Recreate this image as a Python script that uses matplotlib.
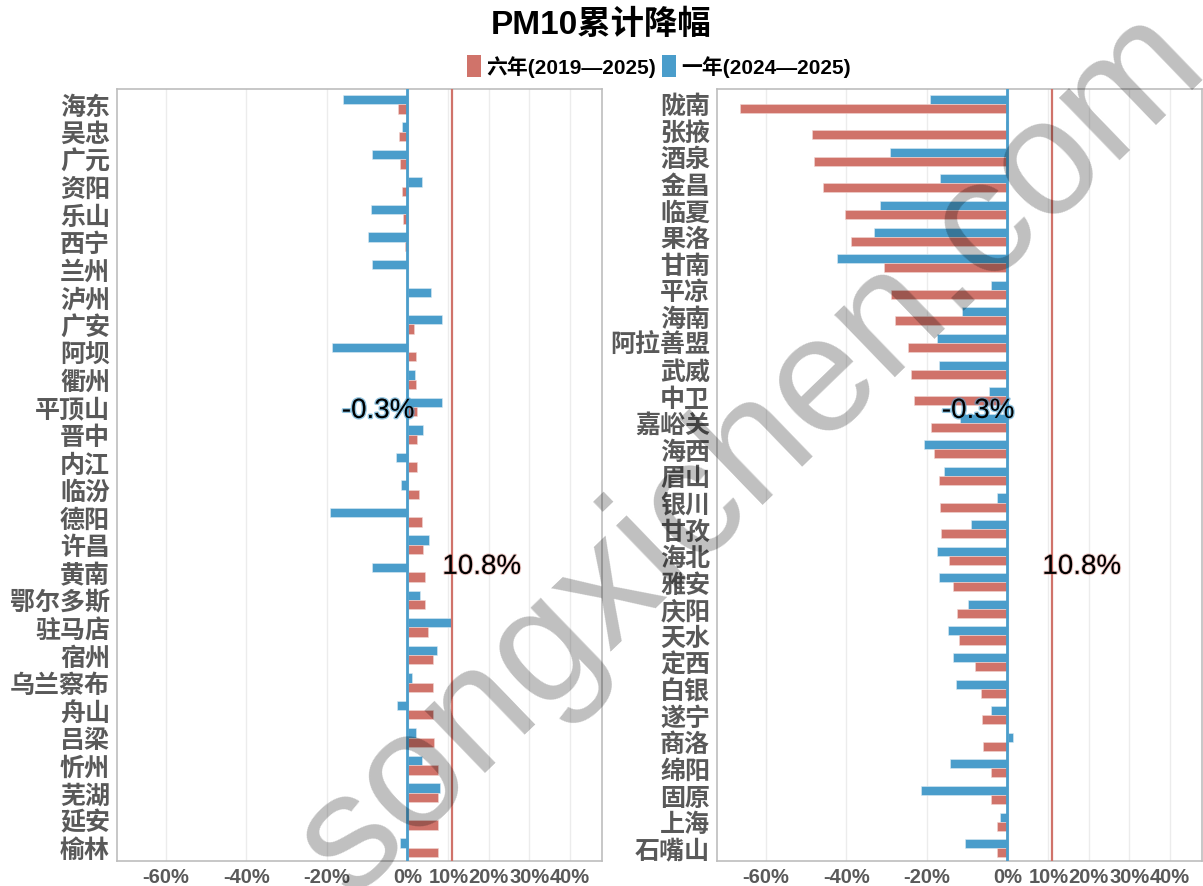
import numpy as np
import matplotlib
matplotlib.use('Agg')
import matplotlib.pyplot as plt
import matplotlib.patheffects as pe
from matplotlib.patches import Patch

# ---------------- data ----------------
left_cities = ['海东', '吴忠', '广元', '资阳', '乐山', '西宁', '兰州', '泸州', '广安', '阿坝',
               '衢州', '平顶山', '晋中', '内江', '临汾', '德阳', '许昌', '黄南', '鄂尔多斯', '驻马店',
               '宿州', '乌兰察布', '舟山', '吕梁', '忻州', '芜湖', '延安', '榆林']
left_six = [-2.5, -2.3, -2.1, -1.5, -1.2, -0.8, 0.1, 0.1, 1.5, 1.9,
            2.1, 2.2, 2.3, 2.3, 2.7, 3.5, 3.75, 4.1, 4.3, 4.9,
            6.2, 6.3, 6.3, 6.5, 7.3, 7.3, 7.5, 7.5]
left_one = [-16.0, -1.4, -8.8, 3.5, -9.1, -10.0, -8.8, 5.6, 8.3, -18.7,
            1.8, 8.3, 3.6, -2.9, -1.7, -19.4, 5.3, -8.8, 2.9, 11.0,
            7.2, 1.1, -2.7, 1.9, 3.4, 7.8, 0.0, -2.1]

right_cities = ['陇南', '张掖', '酒泉', '金昌', '临夏', '果洛', '甘南', '平凉', '海南', '阿拉善盟',
                '武威', '中卫', '嘉峪关', '海西', '眉山', '银川', '甘孜', '海北', '雅安', '庆阳',
                '天水', '定西', '白银', '遂宁', '商洛', '绵阳', '固原', '上海', '石嘴山']
right_six = [-66.2, -48.5, -47.9, -45.7, -40.3, -38.8, -30.6, -28.9, -27.9, -24.7,
             -24.1, -23.2, -19.0, -18.2, -17.0, -16.8, -16.5, -14.5, -13.5, -12.6,
             -12.2, -8.1, -6.6, -6.5, -6.1, -4.3, -4.1, -2.6, -2.6]
right_one = [-19.2, -0.4, -29.1, -16.8, -31.7, -33.1, -42.2, -4.3, -11.3, -17.6,
             -17.1, -4.6, -12.0, -20.7, -15.9, -2.8, -9.2, -17.6, -17.0, -9.9,
             -14.8, -13.5, -12.8, -4.3, 1.3, -14.4, -21.5, -2.1, -10.6]

avg_one = -0.3
avg_six = 10.8
x_ticks = [-60, -40, -20, 0, 10, 20, 30, 40]
x_tick_labels = ['-60%', '-40%', '-20%', '0%', '10%', '20%', '30%', '40%']
title_text = 'PM10累计降幅'
legend_labels = ['六年(2019—2025)', '一年(2024—2025)']
avg_one_label = '-0.3%'
avg_six_label = '10.8%'
watermark = 'songxichen.com'

# ---------------- style ----------------
RED = '#D0736A'
BLUE = '#4A9DCB'
GRAY = '#595959'
LAT = ['Liberation Sans', 'Noto Sans CJK SC']
CJK = ['Noto Sans CJK SC', 'DejaVu Sans']

W, H = 1203, 887
fig = plt.figure(figsize=(W / 100, H / 100), dpi=100)
axL = fig.add_axes([117 / W, 25 / H, 485 / W, 772 / H])
axR = fig.add_axes([717 / W, 25 / H, 485 / W, 772 / H])


def panel(ax, cities, six, one):
    n = len(cities)
    y = np.arange(n)
    h = 0.34
    ax.barh(y - h / 2, one, height=h, color=BLUE, edgecolor='#dbeaf3', linewidth=0.4, zorder=2)
    ax.barh(y + h / 2, six, height=h, color=RED, edgecolor='#f1d6d2', linewidth=0.4, zorder=2)
    ax.axvline(avg_one, color=BLUE, lw=2, zorder=3)
    ax.axvline(avg_six, color=RED, lw=1.6, zorder=3)
    ax.set_xlim(-72, 48)
    ax.set_ylim(n - 1 + 0.48, -0.55)
    ax.set_yticks(y)
    ax.set_yticklabels(cities, fontsize=18, fontweight='bold', color=GRAY, family=CJK)
    ax.set_xticks(x_ticks)
    ax.set_xticklabels(x_tick_labels, fontsize=14.5, fontweight='bold', color=GRAY, family=LAT)
    ax.tick_params(length=0, pad=4)
    ax.tick_params(axis='y', pad=5)
    ax.grid(axis='x', color='#ececec', lw=1, zorder=0)
    ax.set_axisbelow(True)
    for s in ax.spines.values():
        s.set_color('#bdbdbd')
        s.set_linewidth(1.2)
    t1 = ax.text(1.6, 0.583, avg_one_label, transform=ax.get_xaxis_transform(),
                 ha='right', va='center', fontsize=20, color='black', family=LAT, zorder=5)
    t1.set_path_effects([pe.withStroke(linewidth=2, foreground=BLUE, alpha=0.6)])
    t2 = ax.text(8.5, 0.381, avg_six_label, transform=ax.get_xaxis_transform(),
                 ha='left', va='center', fontsize=20, color='black', family=LAT, zorder=5)
    t2.set_path_effects([pe.withStroke(linewidth=1.5, foreground=RED, alpha=0.4)])


panel(axL, left_cities, left_six, left_one)
panel(axR, right_cities, right_six, right_one)

fig.text(0.5, 1 - 25 / H, title_text, ha='center', va='center', fontsize=24,
         fontweight='bold', family=LAT, color='black')

handles = [Patch(facecolor=RED, edgecolor='none'), Patch(facecolor=BLUE, edgecolor='none')]
fig.legend(handles, legend_labels, loc='center', bbox_to_anchor=(659 / W, 1 - 67 / H),
           ncol=2, frameon=False, handlelength=0.65, handleheight=1.3, handletextpad=0.25,
           columnspacing=0.3, prop={'family': LAT, 'weight': 'bold', 'size': 15})

fig.text(0.624, 0.490, watermark, rotation=44, rotation_mode='anchor', ha='center', va='center',
         fontsize=119, color='black', alpha=0.25, family='Liberation Sans', zorder=10)

fig.savefig('out.png', dpi=100)
